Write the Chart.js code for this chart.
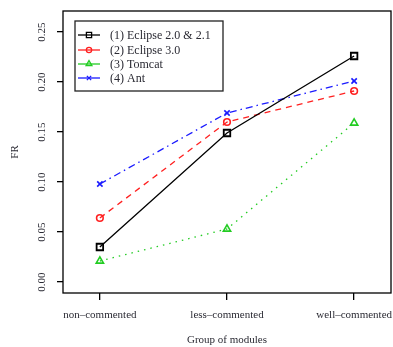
<!DOCTYPE html>
<html>
<head>
<meta charset="utf-8">
<script src="https://cdn.jsdelivr.net/npm/chart.js@4/dist/chart.umd.min.js"></script>
<style>
  body { margin: 0; background: #fff; }
  canvas { display: block; }
</style>
</head>
<body>
<canvas id="chart" width="393" height="347"></canvas>
<script>
// Data
const groups = ['non–commented', 'less–commented', 'well–commented'];
const seriesNames = ['(1) Eclipse 2.0 & 2.1', '(2) Eclipse 3.0', '(3) Tomcat', '(4) Ant'];
const eclipse21 = [0.035, 0.149, 0.226];
const eclipse30 = [0.064, 0.160, 0.191];
const tomcat = [0.021, 0.053, 0.159];
const ant = [0.098, 0.169, 0.201];
const yTicks = [0, 0.05, 0.10, 0.15, 0.20, 0.25];
const yTickLabels = ['0.00', '0.05', '0.10', '0.15', '0.20', '0.25'];

const serif = '"Liberation Serif", "Times New Roman", serif';
const textColor = '#2a2a33';

function toPoints(values) {
    return values.map((v, i) => ({ x: i, y: v }));
}

const styles = [
    { color: '#000000', dash: [], point: 'rect', radius: 4.6, bw: 1.8 },
    { color: '#ff2020', dash: [6, 5], point: 'circle', radius: 3.3, bw: 1.6 },
    { color: '#22cc22', dash: [1.5, 5], point: 'triangle', radius: 4.2, bw: 1.6 },
    { color: '#1a1aff', dash: [7, 4, 1.5, 4], point: 'crossRot', radius: 3.8, bw: 1.6 }
];
const allSeries = [eclipse21, eclipse30, tomcat, ant];

const datasets = allSeries.map((values, i) => ({
    label: seriesNames[i],
    data: toPoints(values),
    borderColor: styles[i].color,
    borderDash: styles[i].dash,
    borderWidth: 1.3,
    tension: 0,
    fill: false,
    pointStyle: styles[i].point,
    pointRadius: styles[i].radius,
    pointBorderWidth: styles[i].bw,
    pointBorderColor: styles[i].color,
    pointBackgroundColor: 'rgba(255,255,255,0)'
}));

// Box, tick labels, axis titles and the legend, R style
const decorations = {
    id: 'decorations',
    afterDraw(chart) {
        const ctx = chart.ctx;
        const area = chart.chartArea;
        const xScale = chart.scales.x;
        const yScale = chart.scales.y;

        ctx.save();
        ctx.strokeStyle = '#000';
        ctx.lineWidth = 1.3;
        ctx.strokeRect(area.left, area.top, area.right - area.left, area.bottom - area.top);

        ctx.fillStyle = textColor;
        ctx.font = '11px ' + serif;
        ctx.textAlign = 'center';
        ctx.textBaseline = 'middle';
        yTicks.forEach((v, i) => {
            const y = yScale.getPixelForValue(v);
            ctx.save();
            ctx.translate(42, y);
            ctx.rotate(-Math.PI / 2);
            ctx.fillText(yTickLabels[i], 0, 0);
            ctx.restore();
        });

        groups.forEach((g, i) => {
            ctx.fillText(g, xScale.getPixelForValue(i), 315);
        });

        ctx.save();
        ctx.translate(15, (area.top + area.bottom) / 2);
        ctx.rotate(-Math.PI / 2);
        ctx.fillText('FR', 0, 0);
        ctx.restore();

        ctx.fillText('Group of modules', (area.left + area.right) / 2, 340);

        // Legend
        const lx = 75, ly = 21, lw = 148, lh = 70;
        ctx.fillStyle = '#fff';
        ctx.fillRect(lx, ly, lw, lh);
        ctx.strokeStyle = '#222';
        ctx.lineWidth = 1.3;
        ctx.strokeRect(lx, ly, lw, lh);

        const rowY = [35, 50, 64, 78];
        ctx.font = '12px ' + serif;
        ctx.textAlign = 'left';
        chart.data.datasets.forEach((ds, i) => {
            const y = rowY[i];
            ctx.strokeStyle = ds.borderColor;
            ctx.fillStyle = 'rgba(255,255,255,0)';
            ctx.lineWidth = 1.3;
            ctx.setLineDash([]);
            ctx.beginPath();
            ctx.moveTo(78, y);
            ctx.lineTo(100, y);
            ctx.stroke();
            Chart.helpers.drawPoint(ctx, {
                pointStyle: ds.pointStyle,
                radius: ds.pointRadius * 0.8,
                borderWidth: 1.3,
                rotation: 0
            }, 89, y);
            ctx.fillStyle = textColor;
            ctx.fillText(ds.label, 110, y + 1);
        });
        ctx.restore();
    }
};

new Chart(document.getElementById('chart'), {
    type: 'line',
    data: { datasets: datasets },
    options: {
        responsive: false,
        animation: false,
        layout: { autoPadding: false, padding: { top: 11, right: 2, left: 0, bottom: 0 } },
        plugins: {
            legend: { display: false },
            tooltip: { enabled: false }
        },
        scales: {
            x: {
                type: 'linear',
                min: -0.29,
                max: 2.29,
                afterBuildTicks: function(scale) {
                    scale.ticks = groups.map((g, i) => ({ value: i }));
                },
                afterFit: function(scale) {
                    scale.height = 54;
                },
                grid: { drawOnChartArea: false, drawTicks: true, tickLength: 7, color: '#000', lineWidth: 1.3 },
                border: { display: false },
                ticks: { display: false }
            },
            y: {
                type: 'linear',
                min: -0.011,
                max: 0.271,
                afterBuildTicks: function(scale) {
                    scale.ticks = yTicks.map(v => ({ value: v }));
                },
                afterFit: function(scale) {
                    scale.width = 63;
                },
                grid: { drawOnChartArea: false, drawTicks: true, tickLength: 6, color: '#000', lineWidth: 1.3 },
                border: { display: false },
                ticks: { display: false }
            }
        }
    },
    plugins: [decorations]
});
</script>
</body>
</html>
